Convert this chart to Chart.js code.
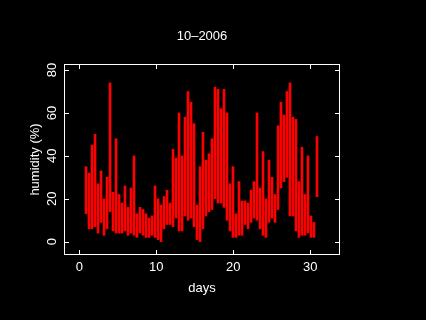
<!DOCTYPE html>
<html>
<head>
<meta charset="utf-8">
<script src="https://cdn.jsdelivr.net/npm/chart.js@4/dist/chart.umd.min.js"></script>
<style>
  html, body { margin: 0; padding: 0; background: #000; }
  #wrap { width: 426px; height: 320px; }
</style>
</head>
<body>
<div id="wrap"><canvas id="c" width="426" height="320"></canvas></div>
<script>
// Humidity readings, October 2006. Each column is the low/high spread of the
// readings that fall in that slice of the day axis.
const days = [
  0.87, 1.26, 1.65, 2.04, 2.43, 2.82, 3.21, 3.60, 3.99, 4.38,
  4.77, 5.16, 5.55, 5.93, 6.32, 6.71, 7.10, 7.49, 7.88, 8.27,
  8.66, 9.05, 9.44, 9.83, 10.22, 10.61, 11.00, 11.39, 11.78, 12.17,
  12.56, 12.95, 13.34, 13.73, 14.12, 14.51, 14.90, 15.29, 15.68, 16.06,
  16.45, 16.84, 17.23, 17.62, 18.01, 18.40, 18.79, 19.18, 19.57, 19.96,
  20.35, 20.74, 21.13, 21.52, 21.91, 22.30, 22.69, 23.08, 23.47, 23.86,
  24.25, 24.64, 25.03, 25.42, 25.81, 26.19, 26.58, 26.97, 27.36, 27.75,
  28.14, 28.53, 28.92, 29.31, 29.70, 30.09, 30.48, 30.87
];
const humHigh = [
  35, 32, 45, 50, 27, 33, 20, 30, 74, 23,
  48, 22, 18, 26, 16, 25, 40, 13, 16, 15,
  13, 11, 12, 26, 20, 17, 21, 24, 18, 43,
  39, 60, 40, 58, 70, 65, 55, 17, 35, 51,
  38, 41, 48, 72, 71, 62, 71, 60, 27, 35,
  13, 28, 19, 19, 18, 24, 28, 60, 25, 42,
  20, 38, 30, 22, 54, 65, 59, 70, 74, 58,
  57, 28, 44, 22, 40, 12, 9, 49
];
const humLow = [
  13, 6, 6, 7, 4, 9, 3, 6, 14, 5,
  4, 4, 4, 5, 3, 4, 3, 2, 4, 3,
  2, 2, 3, 2, 1, 0, 6, 8, 8, 7,
  11, 5, 5, 12, 10, 11, 7, 1, 0, 6,
  12, 14, 15, 20, 18, 18, 16, 10, 5, 2,
  2, 3, 3, 8, 6, 9, 11, 10, 6, 3,
  2, 9, 11, 9, 15, 25, 28, 30, 12, 12,
  5, 2, 3, 3, 4, 2, 2, 21
];
const xTicks = [0, 10, 20, 30];
const yTicks = [0, 20, 40, 60, 80];

const FONT = '"Liberation Sans", Helvetica, Arial, sans-serif';

// R-style frame: white box, inward ticks on all four sides, rotated y labels.
function framePlugin() {
  return {
    id: 'frame',
    afterDraw(chart) {
      const { left, right, top, bottom } = chart.chartArea;
      const x = chart.scales.x;
      const y = chart.scales.y;
      const ctx = chart.ctx;
      ctx.save();
      ctx.strokeStyle = '#fff';
      ctx.lineWidth = 1;
      ctx.strokeRect(left + 0.5, top + 0.5, right - left - 1, bottom - top - 1);
      ctx.beginPath();
      xTicks.forEach((v) => {
        const px = Math.round(x.getPixelForValue(v)) + 0.5;
        ctx.moveTo(px, bottom); ctx.lineTo(px, bottom - 5);
        ctx.moveTo(px, top); ctx.lineTo(px, top + 5);
      });
      yTicks.forEach((v) => {
        const py = Math.round(y.getPixelForValue(v)) + 0.5;
        ctx.moveTo(left, py); ctx.lineTo(left + 5, py);
        ctx.moveTo(right, py); ctx.lineTo(right - 5, py);
      });
      ctx.stroke();

      ctx.fillStyle = '#fff';
      ctx.font = '13px ' + FONT;
      ctx.textAlign = 'center';
      ctx.textBaseline = 'middle';
      xTicks.forEach((v) => ctx.fillText(String(v), x.getPixelForValue(v), bottom + 12));
      yTicks.forEach((v) => {
        ctx.save();
        ctx.translate(left - 12, y.getPixelForValue(v));
        ctx.rotate(-Math.PI / 2);
        ctx.fillText(String(v), 0, 0);
        ctx.restore();
      });
      ctx.restore();
    },
  };
}

const points = days.map((d, i) => ({ x: d, y: [humLow[i], humHigh[i]] }));

new Chart(document.getElementById('c'), {
  type: 'bar',
  data: {
    datasets: [{
      data: points, backgroundColor: '#ff0000', borderWidth: 0,
      barThickness: 2, grouped: false,
    }],
  },
  options: {
    responsive: false, animation: false, devicePixelRatio: 1,
    layout: { padding: { right: 86 } },
    scales: {
      x: {
        type: 'linear', min: -1.99, max: 33.86, offset: false,
        grid: { display: false, offset: false }, border: { display: false },
        ticks: { display: false },
        title: { display: true, text: 'days', color: '#fff',
                 font: { family: FONT, size: 13 }, padding: { top: 0, bottom: 24 } },
        afterFit(scale) { scale.height = 65; },
      },
      y: {
        min: -6.2, max: 82.8,
        grid: { display: false }, border: { display: false },
        ticks: { display: false },
        title: { display: true, text: 'humidity (%)', color: '#fff',
                 font: { family: FONT, size: 13 }, padding: { top: 27.5, bottom: 0 } },
        afterFit(scale) { scale.width = 64; },
      },
    },
    plugins: {
      legend: { display: false },
      tooltip: { enabled: false },
      title: {
        display: true, text: '10\u20132006', color: '#fff', fullSize: false,
        font: { family: FONT, size: 13, weight: 'normal' },
        padding: { top: 28.4, bottom: 20 },
      },
    },
  },
  plugins: [framePlugin()],
});
</script>
</body>
</html>
